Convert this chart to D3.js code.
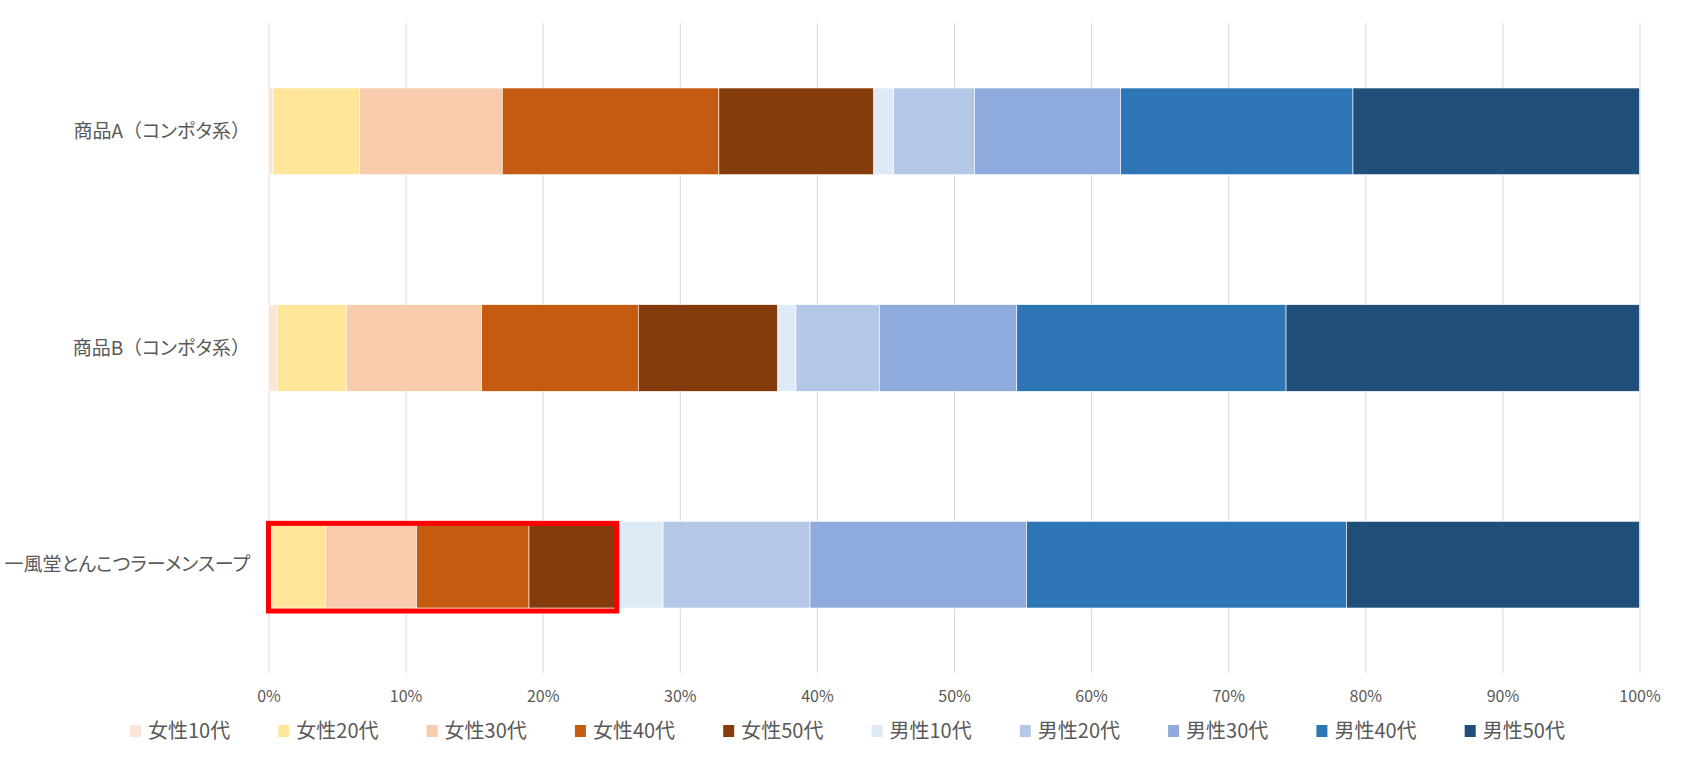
<!DOCTYPE html>
<html>
<head>
<meta charset="utf-8">
<script src="https://cdn.jsdelivr.net/npm/d3@7"></script>
<style>
  body { margin: 0; background: #fff; }
  text { font-family: "Noto Sans CJK JP", "Noto Sans", sans-serif; fill: #595959; }
</style>
</head>
<body>
<script>
// products, top to bottom
const products = ['商品A（コンポタ系）', '商品B（コンポタ系）', '一風堂とんこつラーメンスープ']

const groups = ['女性10代', '女性20代', '女性30代', '女性40代', '女性50代',
                '男性10代', '男性20代', '男性30代', '男性40代', '男性50代']

const colors = ['#FBE5D6', '#FFE699', '#F8CBAD', '#C55A11', '#843C0C',
                '#DEEBF7', '#B4C7E7', '#8FAADC', '#2E75B6', '#1F4E79']

// share of each group (%) per product
const shareA = [0.32, 6.33, 10.4, 15.8, 11.3, 1.45, 5.9, 10.65, 16.95, 20.9]
const shareB = [0.62, 5.05, 9.88, 11.42, 10.18, 1.32, 6.08, 10.03, 19.64, 25.78]
const shareC = [0.25, 3.92, 6.63, 8.2, 6.4, 3.38, 10.72, 15.8, 23.33, 21.37]

const tickValues = [0, 0.1, 0.2, 0.3, 0.4, 0.5, 0.6, 0.7, 0.8, 0.9, 1]

// product whose female share is framed in red
const highlight = 2

const m = { width: 1684, height: 773 }
const plot = { left: 268.5, right: 1639.5, top: 23, bottom: 673 }

const svg = d3.select('body').append('svg')
    .attr('width', m.width)
    .attr('height', m.height)

// build rows with normalised shares
const rows = [shareA, shareB, shareC].map(function(s, i) {
    const total = d3.sum(s)
    const row = { product: products[i] }
    groups.forEach(function(g, j) { row[g] = s[j] / total })
    return row
})

const stacked = d3.stack().keys(groups)(rows)

const x = d3.scaleLinear()
    .domain([0, 1])
    .range([plot.left, plot.right])

const y = d3.scaleBand()
    .domain(products)
    .range([plot.top, plot.bottom])
    .paddingInner(0.6)
    .paddingOuter(0.3)

const color = d3.scaleOrdinal().domain(groups).range(colors)

// gridlines + percent labels
const xAxis = svg.append('g')
    .attr('transform', 'translate(0,' + plot.bottom + ')')
    .call(d3.axisBottom(x)
        .tickValues(tickValues)
        .tickSize(-(plot.bottom - plot.top))
        .tickFormat(d3.format('.0%')))

xAxis.select('.domain').remove()
xAxis.selectAll('.tick line').attr('stroke', '#D9D9D9').attr('stroke-width', 1)
xAxis.selectAll('.tick text')
    .attr('y', 24)
    .attr('dy', '0.32em')
    .style('font-size', '16px')
    .style('fill', '#595959')

// stacked bars
svg.append('g')
    .selectAll('g')
    .data(stacked)
    .enter()
    .append('g')
        .attr('fill', function(d) { return color(d.key) })
    .selectAll('rect')
    .data(function(d) { return d })
    .enter()
    .append('rect')
        .attr('x', function(d) { return x(d[0]) })
        .attr('y', function(d) { return y(d.data.product) })
        .attr('width', function(d) { return x(d[1]) - x(d[0]) })
        .attr('height', y.bandwidth())
        .attr('stroke', '#fff')
        .attr('stroke-width', 0.6)

// red frame around the female part of the highlighted bar
const femaleEnd = stacked[4][highlight][1]
svg.append('rect')
    .attr('x', x(0))
    .attr('y', y(products[highlight]) + 2)
    .attr('width', x(femaleEnd) - x(0))
    .attr('height', y.bandwidth() + 1)
    .attr('fill', 'none')
    .attr('stroke', '#FF0000')
    .attr('stroke-width', 5)

// category labels: proportional kana, but full-width brackets kept wide
const labels = svg.append('g')
    .selectAll('text')
    .data(products)
    .enter()
    .append('text')
        .attr('x', 250)
        .attr('y', function(d) { return y(d) + y.bandwidth() / 2 })
        .attr('dy', '0.35em')
        .attr('text-anchor', 'end')
        .style('font-size', '19px')

labels.selectAll('tspan')
    .data(function(d) { return d.split(/([（）])/).filter(function(s) { return s.length }) })
    .enter()
    .append('tspan')
        .style('font-feature-settings', function(s) { return /[（）]/.test(s) ? 'normal' : '"palt"' })
        .text(function(s) { return s })

// legend
const legend = svg.append('g')
    .selectAll('g')
    .data(groups)
    .enter()
    .append('g')
        .attr('transform', function(d, i) { return 'translate(' + (130 + i * 148.3) + ',731)' })

legend.append('rect')
    .attr('x', 0)
    .attr('y', -6)
    .attr('width', 11)
    .attr('height', 12)
    .attr('fill', function(d) { return color(d) })

legend.append('text')
    .attr('x', 18)
    .attr('dy', '0.35em')
    .style('font-size', '20px')
    .text(function(d) { return d })
</script>
</body>
</html>
